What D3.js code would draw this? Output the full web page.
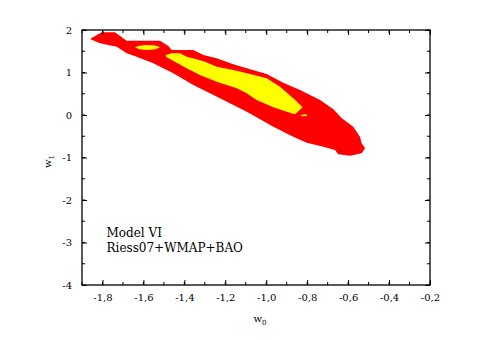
<!DOCTYPE html>
<html lang="en">
<head>
<meta charset="UTF-8">
<title>Model VI contours</title>
<script src="https://cdn.jsdelivr.net/npm/d3@7"></script>
<style>
  body { margin: 0; background: #fff; }
  text { font-family: "DejaVu Serif", serif; }
</style>
</head>
<body>
<div id="chart"></div>
<script>
// confidence regions in (w0, w1)
const outerContour = [
  [-1.861, 1.788], [-1.804, 1.946], [-1.739, 1.946], [-1.682, 1.748], [-1.519, 1.748],
  [-1.478, 1.624], [-1.462, 1.529], [-1.356, 1.529], [-1.307, 1.412], [-1.242, 1.334],
  [-1.161, 1.193], [-1.095, 1.099], [-0.998, 0.965], [-0.917, 0.760], [-0.835, 0.588],
  [-0.737, 0.353], [-0.672, 0.134], [-0.631, -0.078], [-0.575, -0.275], [-0.542, -0.511],
  [-0.534, -0.666], [-0.517, -0.784], [-0.534, -0.901], [-0.591, -0.958], [-0.648, -0.925],
  [-0.664, -0.824], [-0.721, -0.746], [-0.802, -0.652], [-0.868, -0.511], [-0.965, -0.275],
  [-1.095, 0.078], [-1.226, 0.393], [-1.356, 0.706], [-1.454, 0.981], [-1.552, 1.216],
  [-1.633, 1.372], [-1.682, 1.452], [-1.730, 1.607], [-1.772, 1.647], [-1.812, 1.687]
];
const innerContour = [
  [-1.490, 1.412], [-1.462, 1.452], [-1.421, 1.452], [-1.389, 1.372], [-1.340, 1.310],
  [-1.299, 1.254], [-1.242, 1.136], [-1.161, 1.059], [-1.079, 0.965], [-0.998, 0.864],
  [-0.933, 0.666], [-0.868, 0.393], [-0.822, 0.181], [-0.859, 0.016], [-0.900, 0.078],
  [-0.965, 0.181], [-1.047, 0.353], [-1.095, 0.510], [-1.144, 0.628], [-1.242, 0.784],
  [-1.324, 0.941], [-1.389, 1.099], [-1.446, 1.254], [-1.490, 1.372]
];
const innerIslandTop = [
  [-1.641, 1.593], [-1.620, 1.632], [-1.584, 1.647], [-1.540, 1.635], [-1.519, 1.593],
  [-1.540, 1.548], [-1.584, 1.529], [-1.620, 1.548]
];
const innerIslandLow = [
  [-0.835, 0.000], [-0.802, 0.016], [-0.802, -0.024], [-0.825, -0.031]
];

const xTicks = [-1.8, -1.6, -1.4, -1.2, -1.0, -0.8, -0.6, -0.4, -0.2];
const yTicks = [-4, -3, -2, -1, 0, 1, 2];
const xMinor = d3.range(-1.9, -0.15, 0.1);
const yMinor = d3.range(-4, 2.01, 0.5);
const legendLines = ["Model VI", "Riess07+WMAP+BAO"];

const margin = { top: 30, right: 61, bottom: 55, left: 82 };
const width = 491 - margin.left - margin.right;
const height = 340 - margin.top - margin.bottom;

const svg = d3.select("#chart").append("svg")
  .attr("width", 491)
  .attr("height", 340);
const g = svg.append("g")
  .attr("transform", "translate(" + margin.left + "," + margin.top + ")");

const x = d3.scaleLinear().domain([-1.9, -0.2]).range([0, width]);
const y = d3.scaleLinear().domain([-4, 2]).range([height, 0]);

const area = d3.line().x(d => x(d[0])).y(d => y(d[1])).curve(d3.curveLinearClosed);

g.append("path").attr("d", area(outerContour)).attr("fill", "#ff0000");
g.append("path").attr("d", area(innerContour)).attr("fill", "#ffff00");
g.append("path").attr("d", area(innerIslandTop)).attr("fill", "#ffff00");
g.append("path").attr("d", area(innerIslandLow)).attr("fill", "#ffff00");

const fmt = d => d3.format(".1f")(d).replace("−", "-").replace(".", ",");

// axes, ticks pointing inward on all four sides
const axBottom = g.append("g").attr("transform", "translate(0," + height + ")")
  .call(d3.axisBottom(x).tickValues(xTicks).tickSize(-5).tickPadding(9).tickFormat(fmt));
const axTop = g.append("g")
  .call(d3.axisTop(x).tickValues(xTicks).tickSize(-5).tickFormat(""));
const axLeft = g.append("g")
  .call(d3.axisLeft(y).tickValues(yTicks).tickSize(-5).tickPadding(10).tickFormat(d => String(d).replace("−", "-")));
const axRight = g.append("g").attr("transform", "translate(" + width + ",0)")
  .call(d3.axisRight(y).tickValues(yTicks).tickSize(-5).tickFormat(""));

[axBottom, axTop, axLeft, axRight].forEach(a => {
  a.select(".domain").remove();
  a.selectAll("line").attr("stroke", "#000").attr("stroke-width", 1);
  a.selectAll("text").attr("font-family", "DejaVu Serif").attr("font-size", 10).attr("fill", "#000");
});

// minor ticks
g.append("g").selectAll("line").data(xMinor).join("line")
  .attr("x1", d => x(d)).attr("x2", d => x(d)).attr("y1", height).attr("y2", height - 3)
  .attr("stroke", "#000");
g.append("g").selectAll("line").data(xMinor).join("line")
  .attr("x1", d => x(d)).attr("x2", d => x(d)).attr("y1", 0).attr("y2", 3)
  .attr("stroke", "#000");
g.append("g").selectAll("line").data(yMinor).join("line")
  .attr("x1", 0).attr("x2", 3).attr("y1", d => y(d)).attr("y2", d => y(d))
  .attr("stroke", "#000");
g.append("g").selectAll("line").data(yMinor).join("line")
  .attr("x1", width).attr("x2", width - 3).attr("y1", d => y(d)).attr("y2", d => y(d))
  .attr("stroke", "#000");

// frame
g.append("rect").attr("width", width).attr("height", height)
  .attr("fill", "none").attr("stroke", "#000").attr("stroke-width", 1.3);

// axis titles
const xt = g.append("text").attr("x", width / 2 + 4).attr("y", height + 37)
  .attr("text-anchor", "middle").attr("font-size", 10);
xt.append("tspan").text("w");
xt.append("tspan").attr("font-size", 7).attr("dy", 3).text("0");

const yt = g.append("text")
  .attr("transform", "translate(" + (-31) + "," + (height / 2 + 4) + ") rotate(-90)")
  .attr("text-anchor", "middle").attr("font-size", 10);
yt.append("tspan").text("w");
yt.append("tspan").attr("font-size", 7).attr("dy", 3).text("1");

// legend text
g.append("g").selectAll("text").data(legendLines).join("text")
  .attr("x", x(-1.78))
  .attr("y", (d, i) => y(-2.87) + i * 15)
  .attr("font-size", 12)
  .attr("fill", "#000")
  .text(d => d);
</script>
</body>
</html>
